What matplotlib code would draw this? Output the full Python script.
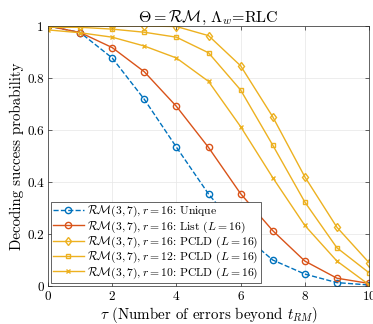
import matplotlib
matplotlib.use("Agg")
import matplotlib.pyplot as plt

plt.rcParams["font.family"] = "serif"
plt.rcParams["font.serif"] = ["cmr10"]
plt.rcParams["mathtext.fontset"] = "cm"
plt.rcParams["axes.formatter.use_mathtext"] = True

tau = [0, 1, 2, 3, 4, 5, 6, 7, 8, 9, 10]
unique16 = [1.0, 0.975, 0.877, 0.718, 0.534, 0.354, 0.205, 0.100, 0.046, 0.013, 0.004]
list16 = [1.0, 0.975, 0.917, 0.824, 0.691, 0.533, 0.355, 0.213, 0.096, 0.030, 0.010]
pcld16 = [1.0, 1.0, 1.0, 1.0, 0.998, 0.963, 0.847, 0.651, 0.420, 0.226, 0.090]
pcld12 = [0.995, 0.995, 0.988, 0.976, 0.957, 0.897, 0.754, 0.542, 0.323, 0.147, 0.051]
pcld10 = [0.985, 0.974, 0.957, 0.923, 0.877, 0.787, 0.613, 0.417, 0.233, 0.096, 0.005]

labels = [
    r"$\mathcal{RM}(3,7), r=16$: Unique",
    r"$\mathcal{RM}(3,7), r=16$: List $(L=16)$",
    r"$\mathcal{RM}(3,7), r=16$: PCLD $(L=16)$",
    r"$\mathcal{RM}(3,7), r=12$: PCLD $(L=16)$",
    r"$\mathcal{RM}(3,7), r=10$: PCLD $(L=16)$",
]

blue = "#0072BD"
orange = "#D95319"
yellow = "#EDB120"

fig = plt.figure(figsize=(3.73, 3.24), dpi=100)
ax = fig.add_axes([48 / 373, 1 - 286 / 324, 321 / 373, 260 / 324])

ms = 4.5
lw = 1.0
ax.plot(tau, unique16, "--o", color=blue, mfc="none", ms=ms, lw=lw, label=labels[0])
ax.plot(tau, list16, "-o", color=orange, mfc="none", ms=ms, lw=lw, label=labels[1])
ax.plot(tau, pcld16, "-d", color=yellow, mfc="none", ms=ms, lw=lw, label=labels[2])
ax.plot(tau, pcld12, "-s", color=yellow, mfc="none", ms=3.5, lw=lw, label=labels[3])
ax.plot(tau, pcld10, "-x", color=yellow, ms=3.5, lw=lw, label=labels[4])

ax.set_xlim(0, 10)
ax.set_ylim(0, 1)
ax.set_xticks([0, 2, 4, 6, 8, 10])
ax.set_yticks([0, 0.2, 0.4, 0.6, 0.8, 1])
ax.set_yticklabels(["0", "0.2", "0.4", "0.6", "0.8", "1"])
ax.tick_params(direction="in", top=True, right=True, labelsize=9.5, length=3,
               width=0.5, color="#262626", pad=3)
ax.grid(True, color="#e6e6e6", lw=0.5)
for s in ax.spines.values():
    s.set_color("#262626")
    s.set_linewidth(0.5)

ax.set_title(r"$\Theta=\mathcal{RM}$, $\Lambda_w$=RLC", fontsize=11.5, pad=3)
ax.set_xlabel(r"$\tau$ (Number of errors beyond $t_{RM}$)", fontsize=10.8, labelpad=1)
ax.set_ylabel("Decoding success probability", fontsize=10.8, labelpad=2)

leg = ax.legend(loc="lower left", fontsize=8.4, frameon=True, fancybox=False,
                edgecolor="#262626", framealpha=1, borderpad=0.2,
                labelspacing=0.0, handlelength=2.6, handletextpad=0.3,
                borderaxespad=0.25)
leg.get_frame().set_linewidth(0.5)

fig.savefig("out.png", dpi=100)
